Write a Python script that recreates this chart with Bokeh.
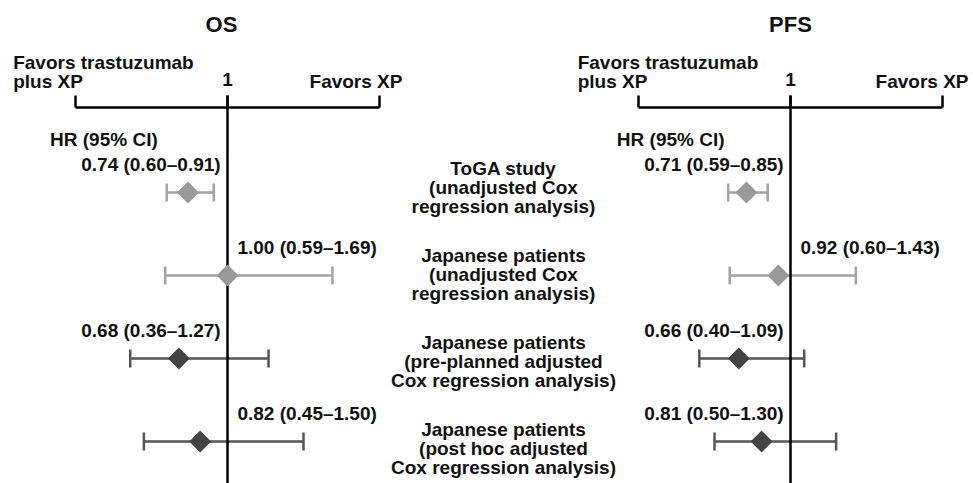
import numpy as np
from bokeh.plotting import figure
from bokeh.models import Range1d
from bokeh.core.properties import value
from bokeh.embed import file_html
from bokeh.resources import INLINE

# ---------------- data ----------------
subgroups = [
    "ToGA study\n(unadjusted Cox\nregression analysis)",
    "Japanese patients\n(unadjusted Cox\nregression analysis)",
    "Japanese patients\n(pre-planned adjusted\nCox regression analysis)",
    "Japanese patients\n(post hoc adjusted\nCox regression analysis)",
]
os_hr = [0.74, 1.00, 0.68, 0.82]
os_lo = [0.60, 0.59, 0.36, 0.45]
os_hi = [0.91, 1.69, 1.27, 1.50]
pfs_hr = [0.71, 0.92, 0.66, 0.81]
pfs_lo = [0.59, 0.60, 0.40, 0.50]
pfs_hi = [0.85, 1.43, 1.09, 1.30]
rows = [0, 1, 2, 3]
adjusted = [False, False, True, True]
axis_ticks = [0, 1, 2]
axis_tick_labels = ["", "1", ""]
left_label = "Favors trastuzumab\nplus XP"
right_label = "Favors XP"
os_label_side = ["left", "right", "left", "right"]
pfs_label_side = ["left", "right", "left", "left"]

# ---------------- layout ----------------
W, H = 973, 483
PX = 152.0      # px per HR unit
ROW = 83.0      # px per row
ROW0 = 192.0    # px from top to first row
OS_ONE = 227.0  # px of HR=1 in OS panel
PFS_ONE = 790.0 # px of HR=1 in PFS panel
LINE = 19.0     # px between text lines


def py(page_y):
    return (page_y - ROW0) / ROW


FONT = value("Liberation Sans")
TXT = "#111111"

p = figure(width=W, height=H, output_backend="svg", toolbar_location=None,
           x_range=Range1d(1 - OS_ONE / PX, 1 + (W - OS_ONE) / PX),
           y_range=Range1d((H - ROW0) / ROW, -ROW0 / ROW),
           min_border=0, outline_line_color=None)
p.extra_x_ranges = {"pfs": Range1d(1 - PFS_ONE / PX, 1 + (W - PFS_ONE) / PX)}
p.xaxis.visible = False
p.yaxis.visible = False
p.grid.visible = False
p.background_fill_color = "white"
p.border_fill_color = "white"

AX = py(107)
AX_TOP = py(95)
Y_BOT = (H - ROW0) / ROW

light_bar, light_fill = "#a3a3a3", "#999999"
dark_bar, dark_fill = "#555555", "#444444"
bar_colors = [dark_bar if a else light_bar for a in adjusted]
fill_colors = [dark_fill if a else light_fill for a in adjusted]


def text(xs, ys, ts, rname, size="19px", align="left"):
    """Draw (possibly multi-line) texts centred vertically on ys (row units)."""
    X, Y, T = [], [], []
    for x, y, t in zip(xs, ys, ts):
        lines = t.split("\n")
        n = len(lines)
        for k, ln in enumerate(lines):
            X.append(x)
            Y.append(y + (k - (n - 1) / 2) * LINE / ROW)
            T.append(ln)
    p.text(x=X, y=Y, text=T, x_range_name=rname, text_font=FONT,
           text_font_style="bold", text_font_size=size, text_align=align,
           text_baseline="middle", text_color=TXT)


def panel(hr, lo, hi, sides, title, title_x, hrlab_x, left_x, right_x, rname):
    # bracket axis
    p.segment(x0=[axis_ticks[0]], y0=[AX], x1=[axis_ticks[-1]], y1=[AX],
              x_range_name=rname, line_color="black", line_width=2.5)
    p.segment(x0=axis_ticks, y0=[AX] * len(axis_ticks), x1=axis_ticks,
              y1=[AX_TOP] * len(axis_ticks), x_range_name=rname,
              line_color="black", line_width=2.5)
    # error bars
    p.segment(x0=lo, y0=rows, x1=hi, y1=rows, x_range_name=rname,
              line_color=bar_colors, line_width=2.5)
    p.scatter(x=lo + hi, y=rows + rows, marker="dash", size=18, angle=np.pi / 2,
              x_range_name=rname, line_color=bar_colors + bar_colors, line_width=2.5)
    # reference line at 1
    p.segment(x0=[1], y0=[AX_TOP], x1=[1], y1=[Y_BOT], x_range_name=rname,
              line_color="black", line_width=2.5)
    # diamonds
    p.scatter(x=hr, y=rows, marker="square", angle=np.pi / 4, size=15.5,
              x_range_name=rname, fill_color=fill_colors, line_color=None)
    # texts
    text([title_x], [py(24)], [title], rname, size="22px", align="center")
    text([left_x], [py(71)], [left_label], rname)
    text([right_x], [py(81)], [right_label], rname, align="right")
    tick_txt = [t for t in axis_tick_labels if t]
    tick_x = [x for x, t in zip(axis_ticks, axis_tick_labels) if t]
    text(tick_x, [py(79)] * len(tick_x), tick_txt, rname, align="center")
    text([hrlab_x], [py(138.5)], ["HR (95% CI)"], rname, align="right")
    labels = [f"{h:.2f} ({l:.2f}\u2013{u:.2f})" for h, l, u in zip(hr, lo, hi)]
    left = [i for i, s in enumerate(sides) if s == "left"]
    right = [i for i, s in enumerate(sides) if s == "right"]
    text([1 - 0.045] * len(left), [rows[i] - 0.34 for i in left],
         [labels[i] for i in left], rname, align="right")
    text([1 + 0.065] * len(right), [rows[i] - 0.34 for i in right],
         [labels[i] for i in right], rname, align="left")


panel(os_hr, os_lo, os_hi, os_label_side, "OS", 0.96, 0.541, -0.41, 2.151, "default")
panel(pfs_hr, pfs_lo, pfs_hi, pfs_label_side, "PFS", 1.0, 0.566, -0.40, 2.171, "pfs")

# centre subgroup labels
lab_y = [py(187 + 87 * r) for r in rows]
text([(503 - OS_ONE) / PX + 1] * len(subgroups), lab_y, subgroups, "default",
     align="center")

open("out.html", "w").write(file_html(p, INLINE))
